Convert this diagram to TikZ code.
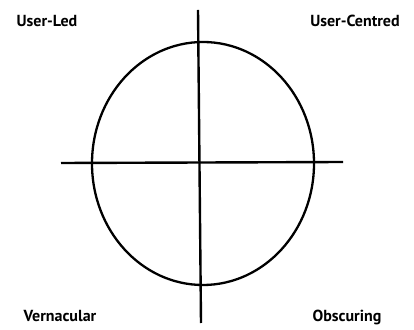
\documentclass[tikz,border=0pt]{standalone}
\usepackage{fontspec}
\setmainfont{PT Sans}
\usetikzlibrary{positioning}

\begin{document}
\begin{tikzpicture}[x=1pt, y=1pt, every node/.style={font=\bfseries\fontsize{16}{19}\selectfont, inner sep=0pt}, axis/.style={line width=2.4pt}]
	\useasboundingbox (0,0) rectangle (414,329);
	\coordinate (top) at (198,319);
	\coordinate (bot) at (201,6);
	\coordinate (lft) at (61,166);
	\coordinate (rgt) at (343,167);
	\draw[axis] (top) -- (bot);
	\draw[axis] (lft) -- (rgt);
	\draw[line width=2.3pt] (203,165.5) ellipse [x radius=111, y radius=121.5];
	\node (UL) at (47,308) {User-Led};
	\node (UC) at (355,308) {User-Centred};
	\node (VN) at (60,13) {Vernacular};
	\node (OB) at (347,12) {Obscuring};
\end{tikzpicture}
\end{document}
